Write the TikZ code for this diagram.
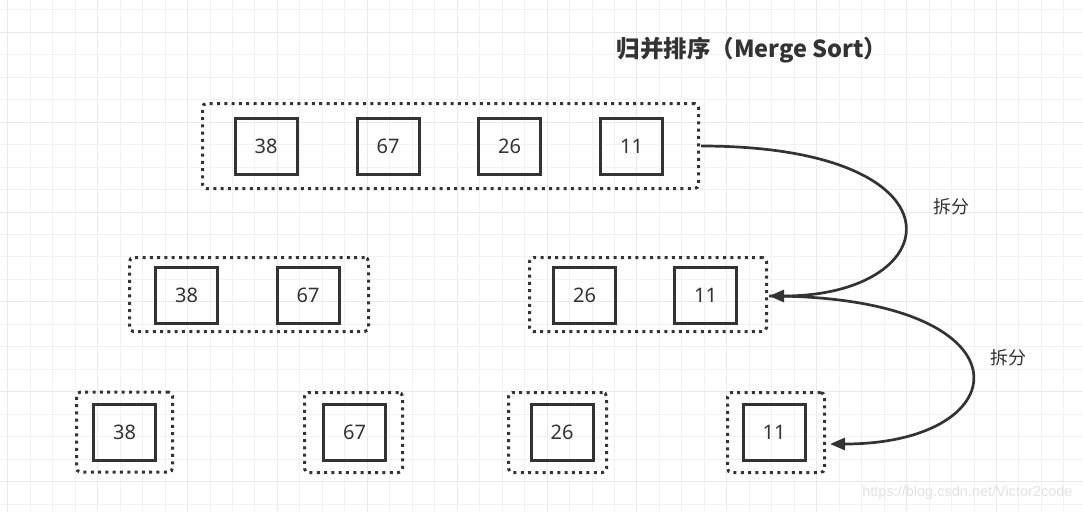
\documentclass[tikz,border=0pt]{standalone}
\usepackage{fontspec}
\setmainfont{Noto Sans}
\newfontfamily\cjk{Noto Sans CJK SC}
\newfontfamily\wmfont{Liberation Sans}
\usetikzlibrary{arrows.meta}
\definecolor{ink}{HTML}{333333}
\definecolor{gridminor}{HTML}{F1F1F1}
\definecolor{gridmajor}{HTML}{E9E9E9}
\definecolor{wm}{HTML}{E2E2E2}
\tikzset{
  cell/.style={draw=ink, line width=3pt, minimum width=62pt, minimum height=56pt,
    inner sep=0pt, text=ink, font=\fontsize{20}{24}\selectfont},
  group/.style={draw=ink, line width=3pt, dash pattern=on 3pt off 4.3pt,
    rounded corners=4pt, inner sep=0pt},
  conn/.style={draw=ink, line width=2.7pt, -{Triangle[length=15pt,width=12pt]}},
  lbl/.style={text=ink, font=\cjk\fontsize{18}{20}\selectfont},
}
\begin{document}
\begin{tikzpicture}[x=1pt,y=-1pt]
\useasboundingbox (0,0) rectangle (1083,512);
\fill[white] (0,0) rectangle (1083,512);
% grid
\foreach \i in {0,...,48} {
  \pgfmathsetmacro{\gx}{7.8+22.47*\i}
  \pgfmathtruncatemacro{\m}{mod(\i,4)}
  \ifnum\m=0
    \draw[gridmajor, line width=1pt] (\gx,0) -- (\gx,512);
  \else
    \draw[gridminor, line width=1pt] (\gx,0) -- (\gx,512);
  \fi
}
\foreach \j in {0,...,22} {
  \pgfmathsetmacro{\gy}{9.8+22.47*\j}
  \pgfmathtruncatemacro{\m}{mod(\j+3,4)}
  \ifnum\m=0
    \draw[gridmajor, line width=1pt] (0,\gy) -- (1083,\gy);
  \else
    \draw[gridminor, line width=1pt] (0,\gy) -- (1083,\gy);
  \fi
}
% title
\node[text=ink, font=\cjk\bfseries\fontsize{23.5}{28}\selectfont] (title) at (752,50) {归并排序（Merge Sort）};
% groups
\node[group, minimum width=496pt, minimum height=85pt] (T) at (450.5,146) {};
\node[group, minimum width=239pt, minimum height=74pt] (ML) at (249,294.5) {};
\node[group, minimum width=237pt, minimum height=74pt] (MR) at (648,294.5) {};
\node[group, minimum width=96pt, minimum height=80pt] (B1) at (124.5,432) {};
\node[group, minimum width=98pt, minimum height=80pt] (B2) at (353.5,432.5) {};
\node[group, minimum width=98pt, minimum height=80pt] (B3) at (557.5,432.5) {};
\node[group, minimum width=97pt, minimum height=80pt] (B4) at (776,432.5) {};
% cells top
\node[cell] (t1) at (266,146) {38};
\node[cell] (t2) at (388,146) {67};
\node[cell] (t3) at (509.5,146) {26};
\node[cell] (t4) at (631.5,146) {11};
% cells middle
\node[cell] (m1) at (186.5,295) {38};
\node[cell] (m2) at (308,295) {67};
\node[cell] (m3) at (584.5,295) {26};
\node[cell] (m4) at (705.5,295) {11};
% cells bottom
\node[cell] (b1) at (124.5,432.5) {38};
\node[cell] (b2) at (354.5,432.5) {67};
\node[cell] (b3) at (562,432.5) {26};
\node[cell] (b4) at (774,432.5) {11};
% connectors
\coordinate (mrE) at ([xshift=1pt,yshift=-1.5pt]MR.east);
\coordinate (b4E) at ([xshift=4pt,yshift=-11.5pt]B4.east);
\draw[conn] ([xshift=1pt]T.east) .. controls (970,146) and (950,296) .. (mrE);
\draw[conn] (mrE) .. controls (1035,296) and (1022,444) .. (b4E);
\node[lbl] (l1) at (951,207) {拆分};
\node[lbl] (l2) at (1008,358) {拆分};
% watermark
\node[text=wm, font=\wmfont\fontsize{14.5}{16}\selectfont, anchor=east] (wmk) at (1076,493) {https://blog.csdn.net/Victor2code};
\end{tikzpicture}
\end{document}
